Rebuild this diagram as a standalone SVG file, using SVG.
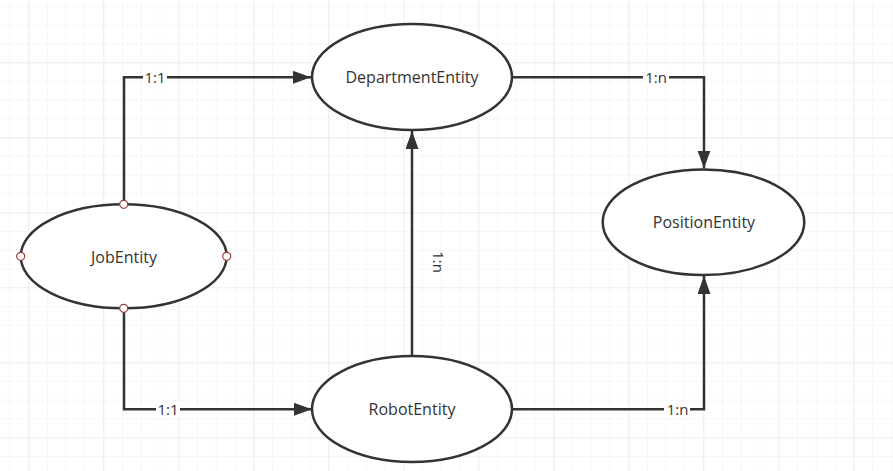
<svg xmlns="http://www.w3.org/2000/svg" width="893" height="471" viewBox="0 0 893 471">
<style>
.ent{fill:#ffffff;stroke:#333333;stroke-width:2.5}
.name{font-family:"Open Sans","Noto Sans",sans-serif;font-size:16px;fill:#333333;text-anchor:middle;dominant-baseline:central}
.edge{fill:none;stroke:#333333;stroke-width:2.5}
.lbl{font-family:"Open Sans","Noto Sans",sans-serif;font-size:15px;fill:#333333;text-anchor:middle;dominant-baseline:central}
.lblbg{fill:#ffffff}
.pt{fill:#ffffff;stroke:#a03c3c;stroke-width:1.2}
</style>
<defs>
<pattern id="minor" patternUnits="userSpaceOnUse" x="9.55" y="6.05" width="18.75" height="18.75">
<path d="M0 0 H18.75 M0 0 V18.75" stroke="#f0f0f0" stroke-width="1" fill="none"/>
</pattern>
<pattern id="major" patternUnits="userSpaceOnUse" x="28.3" y="62.3" width="75" height="75">
<path d="M0 0 H75 M0 0 V75" stroke="#e3e3e3" stroke-width="1" fill="none"/>
</pattern>
<marker id="arrow" markerUnits="userSpaceOnUse" markerWidth="20" markerHeight="14" refX="18" refY="6.5" orient="auto">
<path d="M0 0 L18 6.5 L0 13 Z" fill="#333333"/>
</marker>
</defs>
<rect width="893" height="471" fill="#ffffff"/>
<rect width="893" height="471" fill="url(#minor)"/>
<rect width="893" height="471" fill="url(#major)"/>

<g id="connectors">
<path class="edge" d="M124 204.5 V77.3 H311" marker-end="url(#arrow)"/>
<rect class="lblbg" x="143" y="69" width="24" height="17"/>
<text class="lbl" x="155" y="77.3">1:1</text>

<path class="edge" d="M124 308.5 V409.3 H312" marker-end="url(#arrow)"/>
<rect class="lblbg" x="156" y="401" width="24" height="17"/>
<text class="lbl" x="168" y="409.3">1:1</text>

<path class="edge" d="M512 77.3 H704 V168.5" marker-end="url(#arrow)"/>
<rect class="lblbg" x="643" y="69" width="26" height="17"/>
<text class="lbl" x="656" y="77.3">1:n</text>

<path class="edge" d="M512 409.3 H704 V276" marker-end="url(#arrow)"/>
<rect class="lblbg" x="664" y="401" width="26" height="17"/>
<text class="lbl" x="677.5" y="409.3">1:n</text>

<path class="edge" d="M412 355 V131" marker-end="url(#arrow)"/>
<text class="lbl" x="0" y="0" transform="translate(439 262) rotate(90)">1:n</text>
</g>

<g id="DepartmentEntity">
<ellipse class="ent" cx="412" cy="77" rx="100" ry="53"/>
<text class="name" x="412" y="77">DepartmentEntity</text>
</g>

<g id="PositionEntity">
<ellipse class="ent" cx="703.5" cy="222.2" rx="100.8" ry="52.8"/>
<text class="name" x="704" y="222">PositionEntity</text>
</g>

<g id="JobEntity">
<ellipse class="ent" cx="123.7" cy="256.3" rx="103" ry="52"/>
<text class="name" x="124" y="257">JobEntity</text>
<circle class="pt" cx="123.7" cy="204.3" r="4"/>
<circle class="pt" cx="123.7" cy="308.3" r="4"/>
<circle class="pt" cx="20.7" cy="256.3" r="4"/>
<circle class="pt" cx="226.7" cy="256.3" r="4"/>
</g>

<g id="RobotEntity">
<ellipse class="ent" cx="412" cy="409" rx="100" ry="53"/>
<text class="name" x="412" y="409">RobotEntity</text>
</g>
</svg>
